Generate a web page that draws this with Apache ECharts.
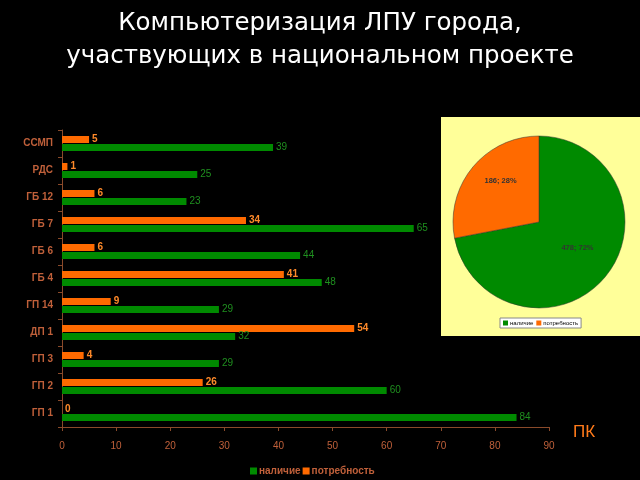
<!DOCTYPE html>
<html><head><meta charset="utf-8">
<script src="https://cdn.jsdelivr.net/npm/echarts@6/dist/echarts.min.js"></script>
<style>html,body{margin:0;padding:0;background:#000;}#c{width:640px;height:480px;}</style>
</head><body><div id="c"></div>
<script>
const categories = ['ССМП','РДС','ГБ 12','ГБ 7','ГБ 6','ГБ 4','ГП 14','ДП 1','ГП 3','ГП 2','ГП 1'];
const nalichie = [39,25,23,65,44,48,29,32,29,60,84];
const potrebnost = [5,1,6,34,6,41,9,54,4,26,0];
const xTicks = [0,10,20,30,40,50,60,70,80,90];
const pieNames = ['наличие','потребность'];
const pieValues = [478,186];

const GREEN = '#008a00', ORANGE = '#ff6a00', AXIS = '#8a4a2a', LBL = '#c0603a';
const chart = echarts.init(document.getElementById('c'), null, {renderer:'canvas'});
chart.setOption({
  backgroundColor:'#000',
  animation:false,
  title:{text:'Компьютеризация ЛПУ города,\nучаствующих в национальном проекте', left:'center', top:2,
    textStyle:{color:'#fff', fontFamily:'DejaVu Sans', fontWeight:'normal', fontSize:24.5, lineHeight:33}},
  graphic:[
    {type:'rect', shape:{x:441,y:117,width:199,height:219}, style:{fill:'#ffff99'}, z:-1},
    {type:'text', left:573, top:424, style:{text:'ПК', fill:'#ff7a1a', font:'17px "Liberation Sans"'}}
  ],
  legend:[
    {data:['наличие','потребность'], left:245, top:461, itemWidth:7, itemHeight:7, itemGap:2, icon:'rect',
     textStyle:{color:LBL, fontSize:10, fontWeight:'bold', fontFamily:'Liberation Sans', padding:[0,0,0,-3]}},
    {data:['наличие','потребность'], left:500, top:318, itemWidth:5, itemHeight:5, itemGap:3, icon:'rect', padding:[2,3],
     backgroundColor:'#fff', borderColor:'#888', borderWidth:1,
     textStyle:{color:'#000', fontSize:6, fontFamily:'Liberation Sans', padding:[0,0,0,-3]}}
  ],
  grid:{left:62, right:91, top:130, bottom:53},
  xAxis:{type:'value', min:0, max:90, interval:10,
    axisLine:{show:true, lineStyle:{color:AXIS}}, axisTick:{show:true, length:4, lineStyle:{color:AXIS}},
    splitLine:{show:false},
    axisLabel:{color:LBL, fontSize:10, fontFamily:'Liberation Sans', margin:14,
      formatter:v=>xTicks.includes(v)?String(v):''}},
  yAxis:{type:'category', data:categories, inverse:true,
    axisLine:{show:true, lineStyle:{color:AXIS}}, axisTick:{show:true, length:4, lineStyle:{color:AXIS}},
    axisLabel:{color:LBL, fontSize:10, fontWeight:'bold', fontFamily:'Liberation Sans', margin:9}},
  series:[
    {name:'потребность', type:'bar', data:potrebnost, barWidth:7, barGap:'15%', itemStyle:{color:ORANGE},
     label:{show:true, position:'right', distance:3, color:'#ff8a2a', fontSize:10, fontWeight:'bold', fontFamily:'Liberation Sans'}},
    {name:'наличие', type:'bar', data:nalichie, barWidth:7, itemStyle:{color:GREEN},
     label:{show:true, position:'right', distance:3, color:'#1f8f1f', fontSize:10, fontFamily:'Liberation Sans'}},
    {name:'pie', type:'pie', center:[539,222], radius:86, startAngle:90, clockwise:true,
     data:pieNames.map((n,i)=>({name:n, value:pieValues[i], itemStyle:{color: i===0?GREEN:ORANGE}})),
     itemStyle:{borderColor:'#333', borderWidth:0.5},
     label:{show:true, position:'inner', formatter:p=>p.value+'; '+Math.round(p.percent)+'%', color:'#333', fontSize:7.5, fontWeight:'bold', fontFamily:'Liberation Sans'},
     labelLayout:p=>p.dataIndex===1?{dx:-3,dy:-12}:{dx:3,dy:-3},
     labelLine:{show:false}}
  ]
});
</script></body></html>
